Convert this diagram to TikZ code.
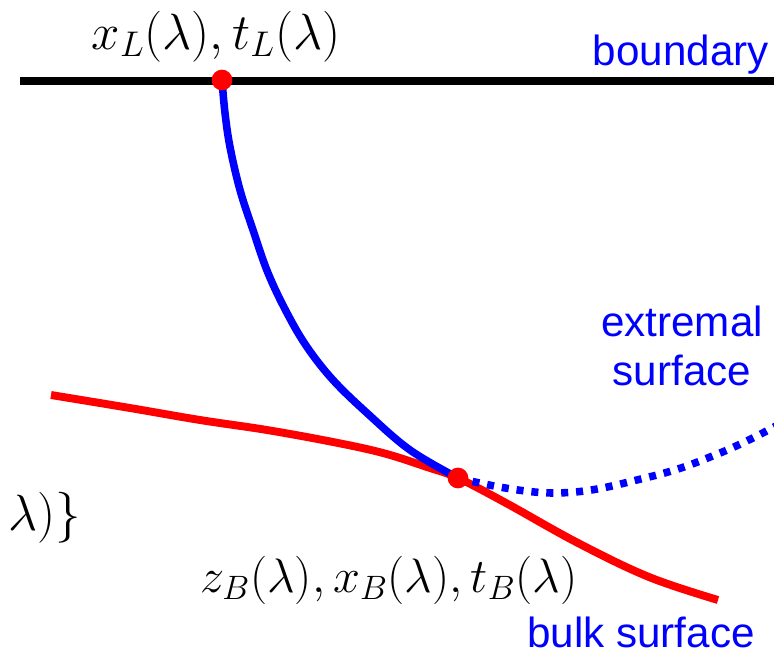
\RequirePackage{fix-cm}
\documentclass[tikz,border=0pt]{standalone}
\usepackage{fontspec}
\setsansfont{Liberation Sans}
\usepackage{amsmath}
\usetikzlibrary{positioning}

\begin{document}
\begin{tikzpicture}[
    x=0.2mm, y=-0.2mm,
    boundaryline/.style={line width=4.4pt, black},
    extremal/.style={line width=4.3pt, blue},
    extremaldots/.style={line width=4.3pt, blue, dash pattern=on 4pt off 4.5pt},
    bulk/.style={line width=4.5pt, red},
    endpoint/.style={circle, fill=red, inner sep=0pt, minimum size=11.8pt},
    mathlabel/.style={inner sep=0pt, font=\fontsize{29}{34}\selectfont},
    tag/.style={inner sep=0pt, text=blue, align=center, font=\sffamily\fontsize{24}{27.5}\selectfont}
]
\useasboundingbox (0,0) rectangle (774,654);

% Points on the two surfaces
\coordinate (bleft) at (20,81);
\coordinate (bright) at (774,81);
\coordinate (xL) at (222,80);
\coordinate (xB) at (458,478);
\coordinate (bulkstart) at (51,395);
\coordinate (bulkend) at (718,600);
\coordinate (dotsend) at (776,426);

% Boundary
\draw[boundaryline] (bleft) -- (bright);

% Bulk surface
\draw[bulk] plot[smooth, tension=0.6] coordinates {(bulkstart) (130,408) (200,420) (267,430) (333,442) (383,453) (427,467) (xB) (506,503) (578,543) (649,577) (bulkend)};

% Extremal surface
\draw[extremal] plot[smooth, tension=0.6] coordinates {(xL) (225,113) (230,147) (240,190) (253,230) (268,273) (287,313) (307,347) (333,380) (367,413) (410,450) (xB)};
\draw[extremaldots] plot[smooth, tension=0.7] coordinates {(xB) (554,493) (649,477) (720,453) (dotsend)};

% End points
\node[endpoint] (pL) at (xL) {};
\node[endpoint] (pB) at (xB) {};

% Labels
\node[mathlabel, anchor=base] (labL) at (216,49) {$x_L(\lambda),t_L(\lambda)$};
\node[mathlabel, anchor=base, font=\fontsize{27.5}{32}\selectfont] (labB) at (389,592) {$z_B(\lambda),x_B(\lambda),t_B(\lambda)$};
\node[mathlabel, anchor=base east] (labcut) at (81,530) {$\lambda)\}$};
\node[tag, anchor=base east] (boundary) at (769,65) {boundary};
\node[tag, anchor=base] (extr) at (682,385) {extremal\\surface};
\node[tag, anchor=base east] (bulktag) at (755,647) {bulk surface};

\end{tikzpicture}
\end{document}
